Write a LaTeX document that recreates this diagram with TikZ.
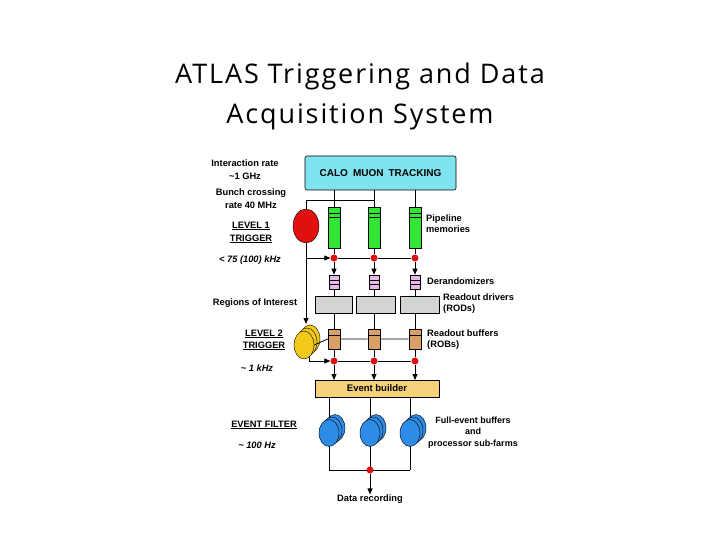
\documentclass[tikz,border=0pt]{standalone}
\usepackage{fontspec}
\setmainfont{Liberation Sans}
\newfontfamily\titlefont[LetterSpace=7]{Open Sans}
\usetikzlibrary{arrows.meta,shapes.geometric}
\definecolor{cyanbox}{HTML}{80E4F0}
\definecolor{greenbox}{HTML}{33E633}
\definecolor{pinkbox}{HTML}{E8B8E8}
\definecolor{greybox}{HTML}{D4D4D4}
\definecolor{brownbox}{HTML}{D9A066}
\definecolor{ebox}{HTML}{F5D27A}
\definecolor{redc}{HTML}{E01010}
\definecolor{yell}{HTML}{F2C81A}
\definecolor{blu}{HTML}{2E8BE6}
\newcommand{\tld}{{\char`\~}}
\begin{document}
\begin{tikzpicture}[x=1pt,y=-1pt,
  lbl/.style={font=\bfseries\fontsize{9.3}{11}\selectfont,inner sep=0pt,align=center},
  lbli/.style={lbl,font=\bfseries\itshape\fontsize{9.3}{11}\selectfont},
  rl/.style={lbl,anchor=west,align=left},
  box/.style={draw=black,line width=0.6pt},
  dot/.style={circle,fill=redc,inner sep=0pt,minimum size=7pt},
  arr/.style={-{Triangle[length=6pt,width=5pt]}},
  ln/.style={line width=0.8pt}]
\useasboundingbox (0,0) rectangle (720,540);
\fill[white] (0,0) rectangle (720,540);
\node[font=\titlefont\fontsize{27}{40}\selectfont,align=center] (title) at (360,96) {ATLAS Triggering and Data\\Acquisition System};
% top box
\node[box,fill=cyanbox,rounded corners=2pt,minimum width=151pt,minimum height=34pt,font=\bfseries\fontsize{10}{11}\selectfont] (det) at (380.5,173) {CALO\enspace MUON\enspace TRACKING};
% columns
\foreach \i/\x in {1/334,2/374,3/415}{
  \coordinate (t\i) at (\x,190);
  \node[box,fill=greenbox,minimum width=12pt,minimum height=41pt,inner sep=0pt] (p\i) at (\x,227.5) {};
  \draw (\x-6,213) -- (\x+6,213) (\x-6,217) -- (\x+6,217);
  \node[dot] (d\i) at (\x,258) {};
  \node[box,fill=pinkbox,minimum width=10pt,minimum height=14pt,inner sep=0pt] (z\i) at (\x,282) {};
  \draw (\x-5,280) -- (\x+5,280) (\x-5,284) -- (\x+5,284);
  \node[box,fill=brownbox,minimum width=12pt,minimum height=20pt,inner sep=0pt] (b\i) at (\x,339) {};
  \draw (\x-6,335) -- (\x+6,335);
  \node[dot] (e\i) at (\x,361) {};
  \draw[ln] (t\i) -- (p\i.north);
  \draw[ln] (p\i.south) -- (d\i);
  \draw[ln,arr] (d\i) -- (z\i.north);
  \draw[ln] (z\i.south) -- (\x,296);
  \draw[ln] (\x,313) -- (b\i.north);
  \draw[ln] (b\i.south) -- (e\i);
}
\node[box,fill=greybox,minimum width=37pt,minimum height=17pt,inner sep=0pt] (r1) at (333.5,304.5) {};
\node[box,fill=greybox,minimum width=39pt,minimum height=17pt,inner sep=0pt] (r2) at (375.5,304.5) {};
\node[box,fill=greybox,minimum width=39pt,minimum height=17pt,inner sep=0pt] (r3) at (419.5,304.5) {};
% level 1
\node[draw,fill=redc,ellipse,minimum width=26pt,minimum height=34pt,inner sep=0pt] (l1) at (306,226) {};
\draw[ln] (l1.north) -- (306,200) -- (374,200);
\draw[ln,arr] (l1.south) -- (306,258) -- (d1.west);
\draw[ln] (d1) -- (d2) -- (d3);
% level 2
\draw[ln,arr] (l1.south) -- (306,324);
\foreach \k in {2,1,0}{
  \node[draw,fill=yell,ellipse,minimum width=20pt,minimum height=28pt,inner sep=0pt] (y\k) at (304+3*\k,345-3*\k) {};}
\draw[ln] (y0.east) -- (b1.west) (b1.east) -- (b2.west) (b2.east) -- (b3.west);
\draw[ln,arr] (309,356) -- (309,361) -- (e1.west);
\draw[ln] (e1) -- (e2) -- (e3);
% event builder
\node[box,fill=ebox,minimum width=124pt,minimum height=17pt,inner sep=0pt,font=\bfseries\fontsize{9.5}{10}\selectfont] (eb) at (377,388.5) {Event builder};
\foreach \i/\x in {1/334,2/374,3/415}{\draw[ln,arr] (e\i) -- (\x,380);}
% filters
\foreach \i/\x in {1/329,2/370,3/410}{
  \draw[ln] (\x,397) -- (\x,470);
  \foreach \k in {2,1,0}{
    \node[draw,fill=blu,ellipse,minimum width=20pt,minimum height=27pt,inner sep=0pt] (f\i\k) at (\x+3*\k,433-2.5*\k) {};}
}
\draw[ln] (329,470) -- (410,470);
\node[dot] (dr) at (370,470) {};
\node[lbl] (drl) at (370,499) {Data recording};
\draw[ln,arr] (dr) -- (drl.north);
% left labels
\node[lbl,font=\bfseries\fontsize{9.3}{13}\selectfont] (a1) at (245,169.5) {Interaction rate\\\tld1 GHz};
\node[lbl,font=\bfseries\fontsize{9.3}{13}\selectfont] (a2) at (251,199) {Bunch crossing\\rate 40 MHz};
\node[lbl,font=\bfseries\fontsize{9.3}{13}\selectfont] (a3) at (251,232.5) {\underline{LEVEL 1}\\\underline{TRIGGER}};
\node[lbli] (a4) at (250,260) {< 75 (100) kHz};
\node[lbl] (a5) at (255,303) {Regions of Interest};
\node[lbl,font=\bfseries\fontsize{9.3}{12}\selectfont] (a6) at (264,340) {\underline{LEVEL 2}\\\underline{TRIGGER}};
\node[lbli] (a7) at (257,368) {\tld{} 1 kHz};
\node[lbl] (a8) at (264,425) {\underline{EVENT FILTER}};
\node[lbli] (a9) at (257,445) {\tld{} 100 Hz};
% right labels
\node[rl] (c1) at (426,223.5) {Pipeline\\memories};
\node[rl] (c2) at (427,281) {Derandomizers};
\node[rl] (c3) at (443,304) {Readout drivers\\(RODs)};
\node[rl] (c4) at (427,340) {Readout buffers\\(ROBs)};
\node[lbl,font=\fontsize{9}{11.5}\selectfont\bfseries] (c5) at (473,432.5) {Full-event buffers\\and\\processor sub-farms};
\end{tikzpicture}
\end{document}
